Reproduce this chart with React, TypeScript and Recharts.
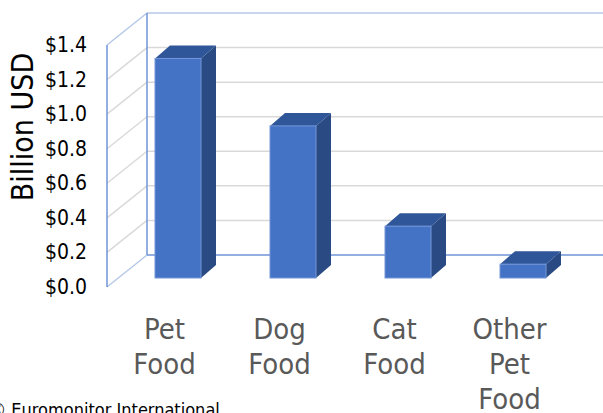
import React from 'react';
import { BarChart, Bar, XAxis, YAxis, CartesianGrid } from 'recharts';

// ─── data ───
const categories = ['Pet Food', 'Dog Food', 'Cat Food', 'Other Pet Food'];
const labelLines = [['Pet', 'Food'], ['Dog', 'Food'], ['Cat', 'Food'], ['Other', 'Pet', 'Food']];
const salesBillionUsd = [1.27, 0.88, 0.3, 0.08];
const yTicks = [0, 0.2, 0.4, 0.6, 0.8, 1.0, 1.2, 1.4];

const data = categories.map((name, i) => ({ name, value: salesBillionUsd[i] }));

const FONT = "'DejaVu Sans Condensed', 'Noto Sans', sans-serif";

// 3D geometry (pixel offsets of the pseudo perspective)
const WALL_DX = 40;
const WALL_DY = -32;
const BAR_DX = 13;
const BAR_DY = -9;
const DEPTH_DX = 15;
const DEPTH_DY = -13;

const EDGE_BLUE = '#6f93d6';
const EDGE_LIGHT = '#b4c7e7';
const GRID_GRAY = '#d9d9d9';

const Bar3D = (props: any) => {
  const { x, y, width, height } = props;
  if (width == null || height == null) return null;
  const fx = x + BAR_DX;
  const fy = y + BAR_DY;
  const top = `${fx},${fy} ${fx + DEPTH_DX},${fy + DEPTH_DY} ${fx + width + DEPTH_DX},${fy + DEPTH_DY} ${fx + width},${fy}`;
  const side = `${fx + width},${fy} ${fx + width + DEPTH_DX},${fy + DEPTH_DY} ${fx + width + DEPTH_DX},${fy + height + DEPTH_DY} ${fx + width},${fy + height}`;
  return (
    <g>
      <polygon points={side} fill="#294a82" />
      <polygon points={top} fill="#30569a" />
      <rect x={fx} y={fy} width={width} height={height} fill="#4472c4" stroke="#7496d8" strokeWidth={1} />
    </g>
  );
};

const gridLine = (p: any) => {
  const { x1, y1, index } = p;
  const gridTop = p.y ?? 45;
  const gridBottom = p.height != null ? gridTop + p.height : 287;
  const isTop = Math.abs(y1 - gridTop) < 0.5;
  const isBottom = Math.abs(y1 - gridBottom) < 0.5;
  const bx = x1 + WALL_DX;
  const by = y1 + WALL_DY;
  return (
    <g key={`gl-${index}`}>
      <line
        x1={x1}
        y1={y1}
        x2={bx}
        y2={by}
        stroke={isTop || isBottom ? EDGE_LIGHT : GRID_GRAY}
        strokeWidth={1.5}
      />
      <line
        x1={bx}
        y1={by}
        x2={603}
        y2={by}
        stroke={isBottom ? EDGE_BLUE : isTop ? EDGE_LIGHT : GRID_GRAY}
        strokeWidth={1.5}
      />
      {isTop && (
        <line x1={bx} y1={by} x2={bx} y2={gridBottom + WALL_DY} stroke={EDGE_BLUE} strokeWidth={1.5} />
      )}
    </g>
  );
};

const YTick = (props: any) => {
  const { x, y, payload } = props;
  return (
    <text x={x - 12} y={y} textAnchor="end" dominantBaseline="central" fontFamily={FONT} fontSize={21} fill="#000">
      {`$${payload.value.toFixed(1)}`}
    </text>
  );
};

const XTick = (props: any) => {
  const { x, y, index } = props;
  const lines = labelLines[index] ?? [];
  return (
    <text x={x} y={y} textAnchor="middle" fontFamily={FONT} fontSize={29} fill="#595959">
      {lines.map((l, i) => (
        <tspan key={i} x={x} y={y + 44 + i * 35}>
          {l}
        </tspan>
      ))}
    </text>
  );
};

const App: React.FC = () => {
  return (
    <div style={{ position: 'absolute', left: 0, top: 0, width: 603, height: 413, overflow: 'hidden', background: '#fff' }}>
      <BarChart width={603} height={413} data={data} margin={{ top: 45, right: 36, left: 47, bottom: 0 }}>
        <CartesianGrid horizontal={gridLine} vertical={false} />
        <XAxis
          dataKey="name"
          height={126}
          axisLine={false}
          tickLine={false}
          interval={0}
          tick={<XTick />}
          label={{
            content: () => (
              <text x={-10} y={416} fontFamily={FONT} fontSize={18} fill="#000">
                © Euromonitor International
              </text>
            ),
          }}
        />
        <YAxis
          type="number"
          domain={[0, 1.4]}
          ticks={yTicks}
          interval={0}
          width={60}
          axisLine={{ stroke: EDGE_BLUE, strokeWidth: 1.5 }}
          tickLine={false}
          tick={<YTick />}
          label={{
            content: () => (
              <text
                transform="translate(22,127) rotate(-90)"
                textAnchor="middle"
                dominantBaseline="central"
                fontFamily={FONT}
                fontSize={30}
                fill="#000"
              >
                Billion USD
              </text>
            ),
          }}
        />
        <Bar dataKey="value" barSize={46} shape={<Bar3D />} isAnimationActive={false} />
      </BarChart>
    </div>
  );
};

export default App;
